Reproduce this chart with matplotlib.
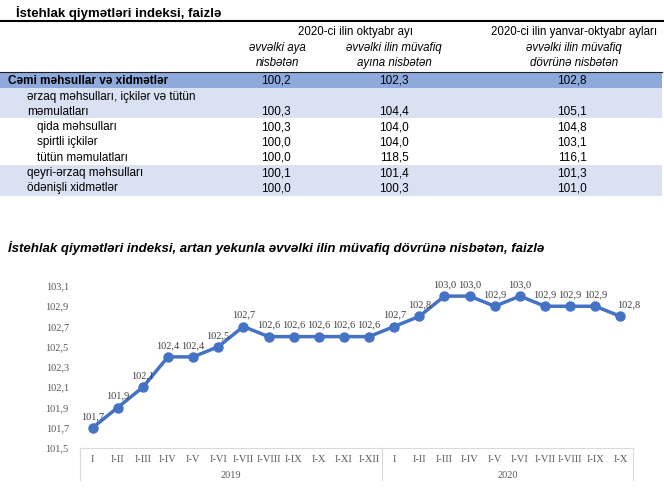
import matplotlib
matplotlib.use('Agg')
import matplotlib.pyplot as plt
from matplotlib.patches import Rectangle
from matplotlib.lines import Line2D
import matplotlib.transforms as mtransforms

W, H = 664, 495

# table data
row_labels = ['Cəmi məhsullar və xidmətlər',
              'ərzaq məhsulları, içkilər və tütün\nməmulatları',
              'qida məhsulları',
              'spirtli içkilər',
              'tütün məmulatları',
              'qeyri-ərzaq məhsulları',
              'ödənişli xidmətlər']
row_levels = [0, 1, 2, 2, 2, 1, 1]
prev_month = [100.2, 100.3, 100.3, 100.0, 100.0, 100.1, 100.0]
prev_year_month = [102.3, 104.4, 104.0, 104.0, 118.5, 101.4, 100.3]
prev_year_period = [102.8, 105.1, 104.8, 103.1, 116.1, 101.3, 101.0]

# chart data
months_2019 = ['I', 'I-II', 'I-III', 'I-IV', 'I-V', 'I-VI', 'I-VII', 'I-VIII',
               'I-IX', 'I-X', 'I-XI', 'I-XII']
months_2020 = ['I', 'I-II', 'I-III', 'I-IV', 'I-V', 'I-VI', 'I-VII', 'I-VIII',
               'I-IX', 'I-X']
cpi_2019 = [101.7, 101.9, 102.1, 102.4, 102.4, 102.5, 102.7, 102.6, 102.6,
            102.6, 102.6, 102.6]
cpi_2020 = [102.7, 102.8, 103.0, 103.0, 102.9, 103.0, 102.9, 102.9, 102.9,
            102.8]
years = ['2019', '2020']

blue = '#4472C4'
dark_band = '#8EA9DB'
light_band = '#D9E1F2'
sans = 'Liberation Sans'
serif = 'Liberation Serif'


def fx(px):
    return px / W


def fy(py):
    return 1 - py / H


def fmt(v):
    return ('%.1f' % v).replace('.', ',')


fig = plt.figure(figsize=(W / 100, H / 100), dpi=100)

# ---------- table ----------
fig.text(fx(16), fy(13), 'İstehlak qiymətləri indeksi, faizlə', family=sans,
         weight='bold', fontsize=9.5, va='center')
fig.add_artist(Line2D([0, 1], [fy(20.5), fy(20.5)], color='black', lw=1.5))

fig.text(fx(355), fy(31.5), '2020-ci ilin oktyabr ayı', family=sans,
         fontsize=8.3, ha='center', va='center')
fig.text(fx(574), fy(31.5), '2020-ci ilin yanvar-oktyabr ayları', family=sans,
         fontsize=8.3, ha='center', va='center')
sub_heads = [(277, 'əvvəlki aya\nnisbətən'),
             (394, 'əvvəlki ilin müvafiq\nayına nisbətən'),
             (574, 'əvvəlki ilin müvafiq\ndövrünə nisbətən')]
for cx, txt in sub_heads:
    fig.text(fx(cx), fy(55.5), txt, family=sans, fontsize=8.3, style='italic',
             ha='center', va='center', linespacing=1.4)

# row bands: (top, bottom, colour)
bands = [(72, 88, dark_band), (88, 118, light_band), (165, 196, light_band)]
for top, bot, col in bands:
    fig.add_artist(Rectangle((fx(0), fy(bot)), fx(662), (bot - top) / H,
                             facecolor=col, edgecolor='none', zorder=0))
fig.add_artist(Line2D([0, fx(662)], [fy(72), fy(72)], color='#1F1F1F', lw=0.8))

# value row centres
row_y = [80.5, 112, 127, 142.5, 158, 173, 188.5]
indent = {0: 8, 1: 27, 2: 37}
for i, label in enumerate(row_labels):
    lab_y = row_y[i] - 7.5 if '\n' in label else row_y[i]
    fig.text(fx(indent[row_levels[i]]), fy(lab_y), label, family=sans,
             fontsize=8.5, weight='bold' if row_levels[i] == 0 else 'normal',
             va='center', linespacing=1.25)
    for cx, vals in [(276, prev_month), (394, prev_year_month),
                     (572, prev_year_period)]:
        fig.text(fx(cx), fy(row_y[i]), fmt(vals[i]), family=sans, fontsize=8.5,
                 ha='center', va='center')

# ---------- chart ----------
fig.text(fx(8), fy(248),
         'İstehlak qiymətləri indeksi, artan yekunla əvvəlki ilin müvafiq '
         'dövrünə nisbətən, faizlə',
         family=sans, weight='bold', style='italic', fontsize=9.5, va='center')

ax = fig.add_axes([fx(80), fy(448), fx(553), (448 - 286) / H])
labels = months_2019 + months_2020
values = cpi_2019 + cpi_2020
xs = list(range(len(labels)))
ax.plot(xs, values, color=blue, lw=2.5, marker='o', markersize=6.5,
        solid_capstyle='round')

for x, v in zip(xs, values):
    dx = 6 if x == xs[-1] else 0
    ax.annotate(fmt(v), (x, v), xytext=(dx, 5), textcoords='offset points',
                ha='center', va='bottom', family=serif, fontsize=7.5,
                color='#404040')

ax.set_xlim(-0.5, len(labels) - 0.5)
ax.set_ylim(101.5, 103.1)
ax.set_yticks([101.5 + 0.2 * k for k in range(9)])
ax.set_yticklabels([fmt(101.5 + 0.2 * k) for k in range(9)], family=serif,
                   fontsize=7.5, color='#595959')
ax.set_xticks(xs)
ax.set_xticklabels(labels, family=serif, fontsize=7.5, color='#595959')
ax.tick_params(axis='y', length=0, pad=8)
ax.tick_params(axis='x', length=0, pad=5)
for s in ['top', 'right', 'left']:
    ax.spines[s].set_visible(False)
ax.spines['bottom'].set_color('#D9D9D9')

# year group separators and labels
trans = mtransforms.blended_transform_factory(ax.transData, ax.transAxes)
drop = -32 / (448 - 286)
n19 = len(months_2019)
for xb in [-0.5, n19 - 0.5, len(labels) - 0.5]:
    ax.add_line(Line2D([xb, xb], [0, drop], transform=trans, color='#D9D9D9',
                       lw=0.8, clip_on=False))
ax.text((n19 - 1) / 2, drop + 5 / 162, years[0], transform=trans, ha='center',
        va='center', family=serif, fontsize=7.5, color='#595959')
ax.text(n19 + (len(months_2020) - 1) / 2, drop + 5 / 162, years[1],
        transform=trans, ha='center', va='center', family=serif, fontsize=7.5,
        color='#595959')

fig.savefig('out.png', dpi=100)
